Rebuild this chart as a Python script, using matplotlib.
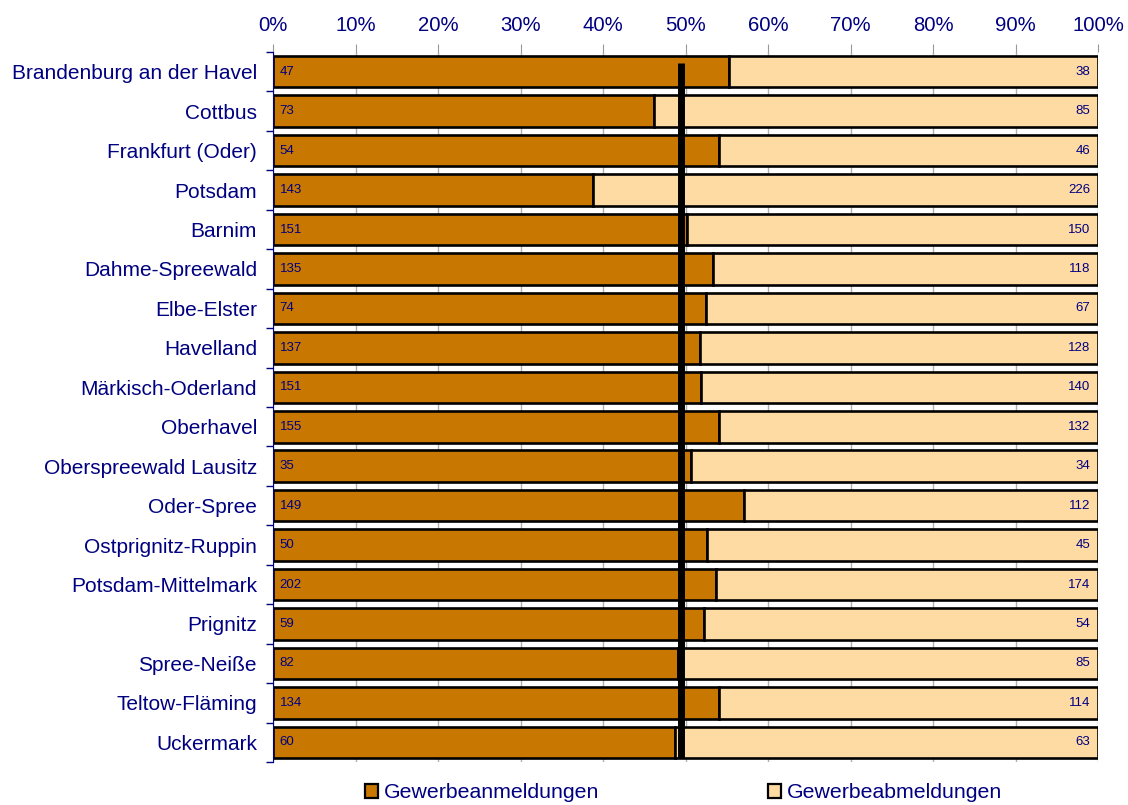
import matplotlib.pyplot as plt
import numpy as np

plt.rcParams['font.family'] = ['Liberation Sans', 'DejaVu Sans']

regions = ["Brandenburg an der Havel", "Cottbus", "Frankfurt (Oder)", "Potsdam",
           "Barnim", "Dahme-Spreewald", "Elbe-Elster", "Havelland",
           "Märkisch-Oderland", "Oberhavel", "Oberspreewald Lausitz", "Oder-Spree",
           "Ostprignitz-Ruppin", "Potsdam-Mittelmark", "Prignitz", "Spree-Neiße",
           "Teltow-Fläming", "Uckermark"]
anmeldungen = [47, 73, 54, 143, 151, 135, 74, 137, 151, 155, 35, 149, 50, 202, 59, 82, 134, 60]
abmeldungen = [38, 85, 46, 226, 150, 118, 67, 128, 140, 132, 34, 112, 45, 174, 54, 85, 114, 63]
ref_line = 49.5

navy = "#000080"
dark = "#C87800"
light = "#FFDBA4"

an = np.array(anmeldungen, dtype=float)
ab = np.array(abmeldungen, dtype=float)
tot = an + ab
p_an = an / tot * 100
p_ab = ab / tot * 100
y = np.arange(len(regions))

fig = plt.figure(figsize=(11.28, 8.05), dpi=100)
ax = fig.add_axes([273 / 1128, 1 - 762 / 805, 825 / 1128, 710 / 805])

ax.barh(y, p_an, height=0.8, color=dark, edgecolor="black", linewidth=1.9,
        label="Gewerbeanmeldungen", zorder=2)
ax.barh(y, p_ab, left=p_an, height=0.8, color=light, edgecolor="black", linewidth=1.9,
        label="Gewerbeabmeldungen", zorder=2)

for i in range(len(regions)):
    ax.text(0.8, y[i], str(anmeldungen[i]), ha="left", va="center",
            fontsize=9.5, color=navy, zorder=4)
    ax.text(99.1, y[i], str(abmeldungen[i]), ha="right", va="center",
            fontsize=9.5, color=navy, zorder=4)

# reference line
ax.plot([ref_line, ref_line], [-0.4 + 0.18, len(regions) - 1 + 0.4],
        color="black", linewidth=5, solid_capstyle="butt", zorder=3)

ax.set_xlim(0, 100)
ax.set_ylim(len(regions) - 0.5, -0.5)
ax.xaxis.tick_top()
ax.set_xticks(np.arange(0, 101, 10))
ax.set_xticklabels([f"{v}%" for v in range(0, 101, 10)], color=navy, fontsize=14.6)
ax.tick_params(axis="x", length=6, color="#999999", pad=6)
ax.grid(axis="x", color="#b0b0b0", linewidth=1, zorder=0)

ax.set_yticks(y)
ax.set_yticklabels(regions, color=navy, fontsize=15)
ax.set_yticks(np.arange(-0.5, len(regions), 1), minor=True)
ax.tick_params(axis="y", which="major", length=0, pad=11.5)
ax.tick_params(axis="y", which="minor", length=5, color=navy, width=1)

for s in ["top", "right", "bottom"]:
    ax.spines[s].set_visible(False)
ax.spines["left"].set_color(navy)

leg = fig.legend(loc="center", bbox_to_anchor=(0.606, 0.015), ncol=2, frameon=False,
                 fontsize=15.3, labelcolor=navy, columnspacing=7.9, handlelength=0.62,
                 handleheight=0.62, handletextpad=0.3, borderpad=0)
for h in leg.legend_handles:
    h.set_linewidth(1.6)

fig.savefig("out.png", dpi=100)
